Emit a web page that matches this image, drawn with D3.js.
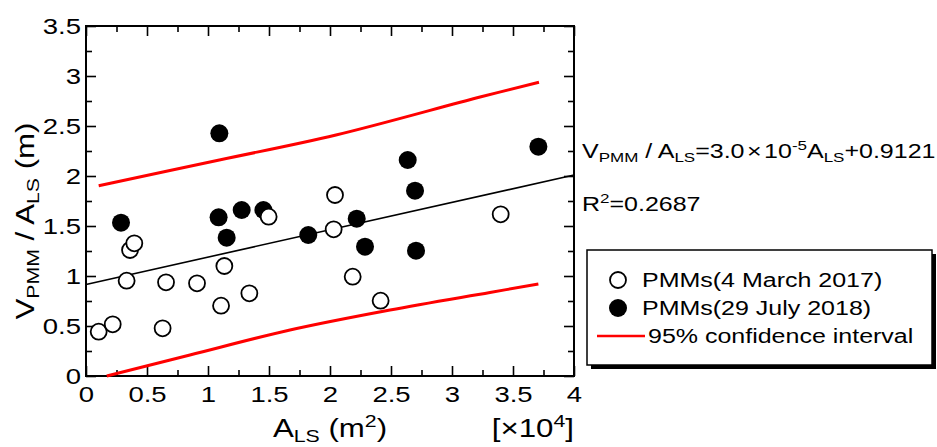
<html>
	<head>
		<title>VPMM / ALS vs ALS</title>
		<script src="https://d3js.org/d3.v7.min.js" charset="utf-8"></script>
		<style>
			body { margin: 0; background: #fff; }
			text { font-family: "Liberation Sans", Arial, sans-serif; fill: #000; }
		</style>
	</head>
	<body>
		<div id="chart"></div>
		<script>
			//Data (A_LS in 10^4 m2, V_PMM/A_LS in m)
			var march2017X = [0.104, 0.219, 0.333, 0.361, 0.396, 0.628, 0.656, 0.910, 1.107, 1.134, 1.339, 1.497, 2.030, 2.041, 2.186, 2.415, 3.399];
			var march2017Y = [0.443, 0.517, 0.953, 1.260, 1.327, 0.477, 0.937, 0.927, 0.703, 1.100, 0.827, 1.593, 1.467, 1.810, 0.993, 0.753, 1.617];
			var july2018X = [0.287, 1.093, 1.087, 1.153, 1.276, 1.454, 1.822, 2.219, 2.287, 2.637, 2.697, 2.705, 3.708];
			var july2018Y = [1.533, 2.427, 1.587, 1.383, 1.660, 1.660, 1.410, 1.573, 1.293, 2.160, 1.853, 1.253, 2.293];
			// regression line
			var fitX = [0, 4];
			var fitY = [0.915, 2.010];
			// 95% confidence interval curves
			var upperX = [0.104, 1.093, 2.049, 3.230, 3.713];
			var upperY = [1.903, 2.160, 2.410, 2.790, 2.937];
			var lowerX = [0.170, 0.852, 1.672, 2.492, 3.311, 3.708];
			var lowerY = [0.000, 0.210, 0.460, 0.660, 0.835, 0.920];
			// ticks
			var xTicks = [0, 0.5, 1, 1.5, 2, 2.5, 3, 3.5, 4];
			var xMinor = [0.25, 0.75, 1.25, 1.75, 2.25, 2.75, 3.25, 3.75];
			var yTicks = [0, 0.5, 1, 1.5, 2, 2.5, 3, 3.5];
			var yMinor = [0.25, 0.75, 1.25, 1.75, 2.25, 2.75, 3.25];
			var legendLabels = ["PMMs(4 March 2017)", "PMMs(29 July 2018)", "95% confidence interval"];

			//Setup
			var sx = 1.25; // the lettering is wide in the original
			var svg = d3.select("#chart").append("svg")
				.attr("width", 937)
				.attr("height", 447);

			var x = d3.scaleLinear().domain([0, 4]).range([86, 574]);
			var y = d3.scaleLinear().domain([0, 3.5]).range([376, 26]);

			// text with sub/superscripts, stretched horizontally
			function richText(px, py, parts, size, anchor, rot) {
				var g = svg.append("g")
					.attr("transform", "translate(" + px + "," + py + ")" + (rot ? " rotate(" + rot + ")" : "") + " scale(" + sx + ",1)");
				var t = g.append("text")
					.attr("font-size", size + "px")
					.attr("text-anchor", anchor || "start");
				var shift = 0;
				parts.forEach(function(p) {
					var s = 0, fs = size;
					if (p[1] == "sub") { s = size * 0.2; fs = size * 0.68; }
					if (p[1] == "sup") { s = -size * 0.42; fs = size * 0.68; }
					t.append("tspan")
						.attr("dy", s - shift)
						.attr("font-size", fs + "px")
						.attr("dx", p[2] || 0)
						.text(p[0]);
					shift = s;
				});
				return g;
			}

			// Axes
			function ticks(axis, vals, size, tx, ty, labels) {
				var a = axis.tickValues(vals).tickSize(-size).tickSizeOuter(0);
				if (!labels) a.tickFormat("");
				var g = svg.append("g")
					.attr("transform", "translate(" + tx + "," + ty + ")")
					.call(a);
				g.select(".domain").remove();
				g.selectAll("line").attr("stroke", "#000").attr("stroke-width", 1.6);
				return g;
			}
			var bottom = ticks(d3.axisBottom(x).tickPadding(10).tickFormat(function(d) { return String(d); }), xTicks, 10, 0, 376, true);
			bottom.selectAll("text")
				.attr("font-size", "22px")
				.attr("font-family", "Liberation Sans, Arial, sans-serif")
				.attr("fill", "#000")
				.attr("transform", "scale(" + sx + ",1)");
			ticks(d3.axisBottom(x), xMinor, 6, 0, 376, false);
			ticks(d3.axisTop(x), xTicks, 10, 0, 26, false);
			ticks(d3.axisTop(x), xMinor, 6, 0, 26, false);
			var left = ticks(d3.axisLeft(y).tickPadding(5).tickFormat(function(d) { return String(d); }), yTicks, 10, 86, 0, true);
			left.selectAll("text")
				.attr("font-size", "22px")
				.attr("font-family", "Liberation Sans, Arial, sans-serif")
				.attr("fill", "#000")
				.attr("x", -5 / sx)
				.attr("transform", "scale(" + sx + ",1)");
			ticks(d3.axisLeft(y), yMinor, 6, 86, 0, false);
			ticks(d3.axisRight(y), yTicks, 10, 574, 0, false);
			ticks(d3.axisRight(y), yMinor, 6, 574, 0, false);

			// Frame
			svg.append("rect")
				.attr("x", x(0)).attr("y", y(3.5))
				.attr("width", x(4) - x(0)).attr("height", y(0) - y(3.5))
				.attr("fill", "none").attr("stroke", "#000").attr("stroke-width", 2);

			// Lines
			var line = d3.line()
				.x(function(d) { return x(d[0]); })
				.y(function(d) { return y(d[1]); });
			var smooth = d3.line()
				.x(function(d) { return x(d[0]); })
				.y(function(d) { return y(d[1]); })
				.curve(d3.curveCatmullRom);
			svg.append("path")
				.attr("d", line(d3.zip(fitX, fitY)))
				.attr("fill", "none").attr("stroke", "#000").attr("stroke-width", 1.6);
			svg.append("path")
				.attr("d", smooth(d3.zip(upperX, upperY)))
				.attr("fill", "none").attr("stroke", "#f00").attr("stroke-width", 3);
			svg.append("path")
				.attr("d", smooth(d3.zip(lowerX, lowerY)))
				.attr("fill", "none").attr("stroke", "#f00").attr("stroke-width", 3);

			// Points
			svg.selectAll(".filled").data(d3.zip(july2018X, july2018Y)).enter().append("circle")
				.attr("cx", function(d) { return x(d[0]); })
				.attr("cy", function(d) { return y(d[1]); })
				.attr("r", 9)
				.attr("fill", "#000");
			svg.selectAll(".open").data(d3.zip(march2017X, march2017Y)).enter().append("circle")
				.attr("cx", function(d) { return x(d[0]); })
				.attr("cy", function(d) { return y(d[1]); })
				.attr("r", 8)
				.attr("fill", "#fff").attr("stroke", "#000").attr("stroke-width", 1.8);

			// Axis titles
			richText(330, 437, [["A"], ["LS", "sub"], [" (m"], ["2", "sup"], [")"]], 25, "middle");
			richText(574, 437, [["[\u00d710"], ["4", "sup"], ["]"]], 25, "end");
			richText(34, 221, [["V"], ["PMM", "sub"], [" / A"], ["LS", "sub"], [" (m)"]], 25, "middle", -90);

			// Equation
			richText(582, 158, [["V"], ["PMM", "sub"], [" / A"], ["LS", "sub"], ["=3.0"], ["\u00d7", null, 2], ["10", null, 2], ["-5", "sup"], ["A"], ["LS", "sub"], ["+0.9121"]], 20, "start");
			richText(582, 211, [["R"], ["2", "sup"], ["=0.2687"]], 20, "start");

			// Legend
			svg.append("rect")
				.attr("x", 591).attr("y", 254).attr("width", 345).attr("height", 115)
				.attr("fill", "#000");
			svg.append("rect")
				.attr("x", 587).attr("y", 250).attr("width", 345).attr("height", 115)
				.attr("fill", "#fff").attr("stroke", "#000").attr("stroke-width", 1.5);
			svg.append("circle").attr("cx", 618).attr("cy", 280).attr("r", 8)
				.attr("fill", "#fff").attr("stroke", "#000").attr("stroke-width", 1.8);
			svg.append("circle").attr("cx", 618).attr("cy", 308).attr("r", 9)
				.attr("fill", "#000");
			svg.append("line").attr("x1", 597).attr("x2", 645).attr("y1", 336).attr("y2", 336)
				.attr("stroke", "#f00").attr("stroke-width", 2.5);
			richText(642, 287, [[legendLabels[0]]], 20, "start");
			richText(642, 315, [[legendLabels[1]]], 20, "start");
			richText(648, 343, [[legendLabels[2]]], 20, "start");
		</script>
	</body>
</html>
